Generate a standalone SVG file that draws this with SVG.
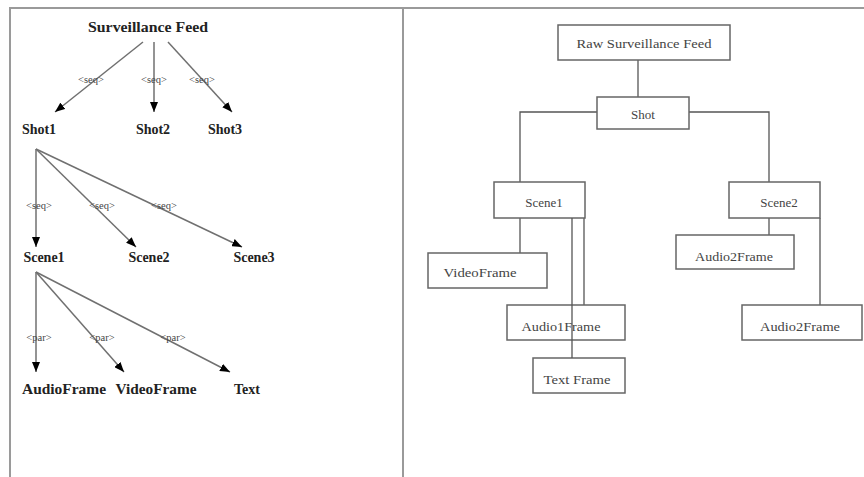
<svg xmlns="http://www.w3.org/2000/svg" width="864" height="477" viewBox="0 0 864 477">
<defs>
<style>
.frame{stroke:#9a9a9a;stroke-width:2;fill:none}
.ln{stroke:#707070;stroke-width:1.5;fill:none}
.rl{stroke:#555;stroke-width:1.3;fill:none}
.box{fill:#fff;stroke:#666;stroke-width:1.5}
.bt{font-family:"Liberation Serif",serif;font-weight:bold;font-size:14px;fill:#222;text-anchor:middle}
.lab{font-family:"Liberation Serif",serif;font-size:10.5px;fill:#444;text-anchor:middle}
.rt{font-family:"Liberation Serif",serif;font-size:13px;fill:#444;text-anchor:middle}
</style>
<marker id="ah" viewBox="0 0 10 8" refX="10" refY="4" markerWidth="10" markerHeight="8" markerUnits="userSpaceOnUse" orient="auto">
<path d="M0,0 L10,4 L0,8 z" fill="#000"/>
</marker>
</defs>
<rect width="864" height="477" fill="#fff"/>
<g id="frame">
<line class="frame" x1="9" y1="8" x2="864" y2="8"/>
<line class="frame" x1="10" y1="8" x2="10" y2="477"/>
<line class="frame" x1="403" y1="8" x2="403" y2="477"/>
</g>
<g id="connectors">
<line class="ln" x1="143" y1="42" x2="55" y2="112" marker-end="url(#ah)"/>
<line class="ln" x1="154" y1="42" x2="154" y2="112" marker-end="url(#ah)"/>
<line class="ln" x1="168" y1="42" x2="232" y2="112" marker-end="url(#ah)"/>
<line class="ln" x1="36" y1="149" x2="36" y2="247" marker-end="url(#ah)"/>
<line class="ln" x1="36" y1="149" x2="136" y2="247" marker-end="url(#ah)"/>
<line class="ln" x1="36" y1="149" x2="242" y2="247" marker-end="url(#ah)"/>
<line class="ln" x1="36" y1="272" x2="36" y2="372" marker-end="url(#ah)"/>
<line class="ln" x1="36" y1="272" x2="124" y2="372" marker-end="url(#ah)"/>
<line class="ln" x1="36" y1="272" x2="230" y2="372" marker-end="url(#ah)"/>
<path class="rl" d="M638,60 V97"/>
<path class="rl" d="M597,112 H520 V182"/>
<path class="rl" d="M689,112 H769 V182"/>
<path class="rl" d="M520,218 V253"/>
<path class="rl" d="M584,218 V305"/>
<path class="rl" d="M769,218 V235"/>
<path class="rl" d="M820,218 V305"/>
</g>
<g id="labels">
<text class="lab" x="91" y="83">&lt;seq&gt;</text>
<text class="lab" x="154" y="83">&lt;seq&gt;</text>
<text class="lab" x="202" y="83">&lt;seq&gt;</text>
<text class="lab" x="39" y="209">&lt;seq&gt;</text>
<text class="lab" x="102" y="209">&lt;seq&gt;</text>
<text class="lab" x="164" y="209">&lt;seq&gt;</text>
<text class="lab" x="39" y="341">&lt;par&gt;</text>
<text class="lab" x="102" y="341">&lt;par&gt;</text>
<text class="lab" x="173" y="341">&lt;par&gt;</text>
</g>
<g id="surveillance-feed"><text class="bt" x="148" y="32" textLength="120" lengthAdjust="spacingAndGlyphs">Surveillance Feed</text></g>
<g id="shot1"><text class="bt" x="39" y="134">Shot1</text></g>
<g id="shot2"><text class="bt" x="153" y="134">Shot2</text></g>
<g id="shot3"><text class="bt" x="225" y="134">Shot3</text></g>
<g id="scene1-l"><text class="bt" x="44" y="262">Scene1</text></g>
<g id="scene2-l"><text class="bt" x="149" y="262">Scene2</text></g>
<g id="scene3-l"><text class="bt" x="254" y="262">Scene3</text></g>
<g id="audioframe-l"><text class="bt" x="64" y="394" textLength="84" lengthAdjust="spacingAndGlyphs">AudioFrame</text></g>
<g id="videoframe-l"><text class="bt" x="156" y="394" textLength="81" lengthAdjust="spacingAndGlyphs">VideoFrame</text></g>
<g id="text-l"><text class="bt" x="247" y="394">Text</text></g>
<g id="raw-feed"><rect class="box" x="558" y="25" width="172" height="35"/><text class="rt" x="644" y="48" textLength="135" lengthAdjust="spacingAndGlyphs">Raw Surveillance Feed</text></g>
<g id="shot"><rect class="box" x="597" y="97" width="92" height="32"/><text class="rt" x="643" y="119">Shot</text></g>
<g id="scene1"><rect class="box" x="494" y="182" width="91" height="36"/><text class="rt" x="544" y="207">Scene1</text></g>
<g id="scene2"><rect class="box" x="729" y="182" width="91" height="36"/><text class="rt" x="779" y="207">Scene2</text></g>
<g id="videoframe"><rect class="box" x="428" y="253" width="119" height="35"/><text class="rt" x="480" y="277" textLength="73" lengthAdjust="spacingAndGlyphs">VideoFrame</text></g>
<g id="audio1frame"><rect class="box" x="507" y="305" width="118" height="35"/><text class="rt" x="561" y="331" textLength="79" lengthAdjust="spacingAndGlyphs">Audio1Frame</text></g>
<g id="textframe"><rect class="box" x="533" y="358" width="92" height="35"/><text class="rt" x="577" y="384" textLength="67" lengthAdjust="spacingAndGlyphs">Text Frame</text></g>
<g id="audio2frame-a"><rect class="box" x="676" y="235" width="118" height="34"/><text class="rt" x="734" y="261" textLength="78" lengthAdjust="spacingAndGlyphs">Audio2Frame</text></g>
<g id="audio2frame-b"><rect class="box" x="742" y="305" width="120" height="35"/><text class="rt" x="800" y="331" textLength="80" lengthAdjust="spacingAndGlyphs">Audio2Frame</text></g>
<g id="connector-over"><path class="rl" d="M572,218 V358"/></g>
</svg>
